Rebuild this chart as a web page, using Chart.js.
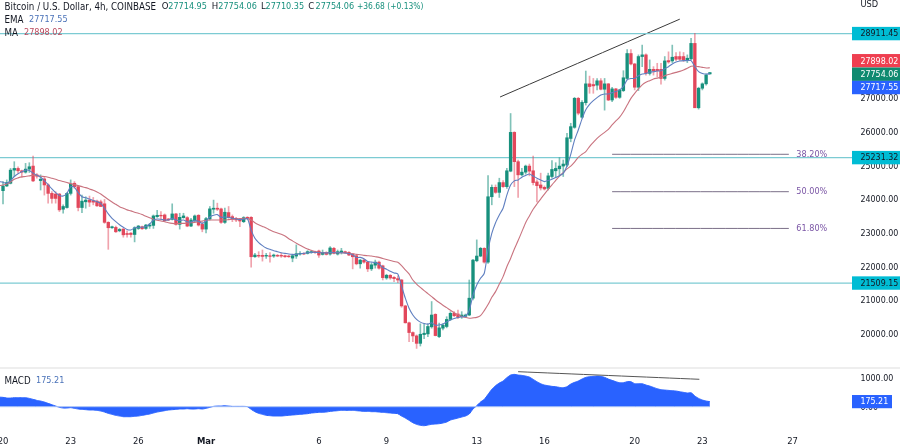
<!DOCTYPE html>
<html><head><meta charset="utf-8">
<script src="https://cdn.jsdelivr.net/npm/chart.js@4"></script>
<style>html,body{margin:0;padding:0;background:#fff;overflow:hidden}canvas{position:absolute;left:0;display:block}</style>
</head><body>
<canvas id="main" width="900" height="367" style="top:0"></canvas>
<canvas id="macd" width="900" height="80" style="top:367px"></canvas>
<script>
const opens=[
24250,24390,24470,24860,24910,24840,24800,24890,24980,24720,
24550,24600,24420,24170,24150,24150,23700,23750,24170,24470,
24370,23750,23920,23970,23950,23940,23920,23860,23310,23150,
23160,23060,23110,22980,22990,22950,23130,23180,23130,23200,
23220,23480,23520,23530,23410,23400,23560,23250,23450,23450,
23200,23360,23520,23250,23110,23410,23700,23730,23710,23310,
23600,23480,23430,23410,23330,23460,23460,22290,22330,22330,
22310,22320,22310,22330,22330,22320,22310,22250,22310,22370,
22390,22390,22410,22440,22460,22360,22420,22370,22540,22370,
22410,22440,22420,22370,22320,22080,22190,22130,21930,22040,
22130,22020,21660,21740,21680,21640,21600,20830,20330,20040,
19940,19720,19980,20000,20210,20580,19920,20170,20220,20430,
20610,20590,20510,20520,20560,21060,22170,22310,22540,22130,
24070,24350,24200,24490,24370,24830,25980,25110,24720,24800,
24980,24840,24510,24420,24350,24320,24670,24840,24900,24980,
25010,25800,26130,26990,26430,26860,27420,27400,27380,27510,
27260,27420,26940,27270,27020,27220,27580,28320,28010,27320,
28230,28280,27730,27850,27850,27850,27580,28110,28100,28230,
28230,28230,28110,28160,28620,26710,27290,27420,27714.95];
const highs=[
24520,24570,24910,25110,24960,24860,25060,25080,25280,24760,
24720,24650,24450,24220,24220,24170,23830,24190,24570,24520,
24390,24120,24070,24090,24050,23970,23970,23990,23330,23200,
23200,23130,23130,23060,23010,23180,23220,23200,23250,23280,
23530,23670,23630,23560,23430,23860,23580,23580,23580,23480,
23430,23530,23540,23330,23460,23780,23970,23880,23730,23730,
23780,23530,23460,23430,23480,23480,23480,22390,22440,22490,
22390,22410,22370,22360,22390,22340,22330,22340,22640,22440,
22410,22470,22470,22460,22490,22490,22440,22590,22570,22490,
22540,22460,22440,22390,22340,22210,22210,22150,22100,22190,
22160,22040,21770,21760,21700,21720,21620,20850,20350,20060,
19970,20300,20300,20300,20960,20600,20320,20300,20510,20660,
20660,20710,20660,20590,21600,22210,22790,22570,22560,24700,
24420,24420,24620,24550,24910,26540,26000,25160,24910,25010,
25040,25280,24570,24770,24390,24770,25140,25080,25230,25160,
25950,26250,27020,27020,26920,27800,27650,27580,27580,27580,
27580,27430,27320,27290,27260,27810,28440,28440,28030,28280,
28570,28310,28130,27930,28030,28030,28230,28370,28570,28350,
28370,28350,28280,28770,28920,27320,27450,27710,27754.06];
const lows=[
23860,24370,24450,24670,24770,24650,24770,24790,24520,24620,
24270,24120,23880,23880,23880,23630,23580,23730,24120,24320,
23650,23600,23730,23780,23830,23780,23780,23280,22510,23130,
23010,23030,22870,22870,22870,22730,23100,23100,23100,23130,
23130,23460,23380,23330,23360,23380,23230,23110,23430,23180,
23180,23330,23200,23030,23000,23380,23580,23660,23280,23280,
23430,23330,23330,23180,23300,23400,21980,22270,22270,22160,
22240,22130,22270,22290,22270,22270,22270,22140,22240,22340,
22350,22370,22390,22390,22270,22340,22340,22340,22370,22340,
22370,22390,22320,21930,22050,21950,22100,21850,21880,21950,
21920,21600,21620,21620,21550,21520,20790,20320,19770,19770,
19570,19640,19860,19920,20170,19940,19890,20120,20180,20400,
20510,20450,20460,20490,20540,21010,22140,22290,22100,22090,
23830,24170,24050,24350,24320,24810,24370,24050,24690,24740,
24690,24420,23920,24270,24270,24270,24620,24650,24690,24670,
24960,25700,26100,26500,26400,26790,27140,27140,27240,27240,
26640,26920,26890,26990,26990,27190,27550,27980,27240,27220,
27930,27680,27680,27680,27630,27410,27530,28030,28050,28110,
28110,28080,28050,28130,26710,26670,27240,27380,27710.35];
const closes=[
24390,24490,24860,24910,24840,24800,24890,24960,24540,24680,
24590,24420,24170,24020,24020,23680,23780,24170,24440,24370,
23750,23940,23970,23910,23910,23800,23780,23310,23150,23180,
23030,23100,22940,22950,22950,23150,23200,23120,23230,23230,
23500,23520,23500,23360,23380,23560,23250,23460,23500,23200,
23380,23500,23230,23110,23420,23710,23730,23700,23310,23610,
23450,23400,23380,23350,23450,23430,22290,22340,22310,22300,
22330,22300,22340,22310,22310,22290,22290,22320,22380,22390,
22370,22440,22440,22410,22340,22420,22360,22550,22390,22440,
22460,22410,22340,22290,22080,22190,22130,21930,22050,22130,
21950,21670,21740,21660,21640,21600,20830,20330,20040,19940,
19720,19990,20020,20220,20560,19950,20180,20260,20430,20610,
20540,20490,20560,20560,21060,22190,22310,22540,22130,24070,
24350,24200,24490,24370,24840,25980,25110,24720,24800,24980,
24830,24490,24400,24330,24300,24690,24880,24910,24980,25040,
25820,26150,26990,26550,26870,27420,27340,27360,27510,27260,
27420,26940,27270,27020,27240,27600,28320,28010,27320,28230,
28280,27730,27850,27810,27810,27580,28100,28070,28210,28150,
28150,28130,28180,28620,26710,27290,27420,27680,27754.06];
const emaValues=[
24500,24470,24550,24670,24750,24810,24860,24850,24770,24710,
24650,24550,24430,24300,24190,24110,24090,24170,24370,24350,
24190,24070,24040,24000,23960,23920,23875,23730,23560,23430,
23330,23240,23165,23100,23085,23140,23165,23165,23190,23260,
23380,23410,23400,23380,23380,23430,23380,23360,23380,23330,
23320,23360,23340,23280,23350,23470,23520,23540,23460,23470,
23460,23430,23410,23390,23400,23420,23080,22840,22710,22620,
22550,22510,22470,22440,22410,22390,22370,22360,22360,22380,
22390,22410,22420,22420,22410,22410,22400,22420,22410,22410,
22410,22400,22380,22350,22270,22270,22230,22150,22130,22115,
22075,21970,21920,21860,21810,21780,21420,21060,20760,20560,
20430,20350,20310,20290,20330,20255,20265,20295,20355,20415,
20455,20485,20505,20525,20700,21150,21450,21650,21800,22490,
22980,23300,23530,23730,24120,24420,24540,24570,24650,24700,
24745,24685,24620,24570,24520,24550,24590,24640,24695,24765,
24980,25330,25750,26050,26380,26650,26810,26920,27010,27090,
27120,27120,27160,27190,27240,27340,27540,27580,27580,27660,
27710,27730,27770,27780,27800,27810,27870,27930,28010,28070,
28100,28110,28110,28110,27930,27780,27730,27710,27717.55];
const maValues=[
24420,24450,24510,24590,24630,24660,24670,24690,24710,24700,
24680,24670,24650,24620,24590,24550,24520,24490,24460,24430,
24400,24370,24340,24300,24260,24210,24150,24070,23990,23915,
23845,23775,23730,23680,23650,23610,23580,23540,23490,23450,
23400,23370,23350,23330,23300,23280,23270,23280,23280,23290,
23300,23310,23330,23350,23370,23380,23380,23380,23380,23380,
23390,23400,23410,23420,23430,23420,23380,23300,23240,23190,
23140,23080,23030,22995,22955,22905,22825,22760,22690,22630,
22570,22520,22480,22440,22420,22410,22410,22410,22410,22410,
22410,22400,22390,22380,22360,22350,22330,22320,22310,22290,
22270,22240,22210,22180,22150,22125,22025,21900,21780,21600,
21480,21380,21285,21195,21105,21015,20930,20850,20780,20700,
20630,20570,20520,20490,20465,20475,20490,20540,20690,20870,
21085,21255,21480,21700,21995,22240,22520,22770,23035,23300,
23500,23700,23855,24000,24150,24290,24420,24557,24685,24785,
24895,24980,25100,25240,25330,25410,25560,25685,25805,25900,
25980,26070,26200,26320,26430,26590,26790,26990,27140,27270,
27390,27465,27515,27565,27590,27620,27660,27700,27730,27760,
27790,27830,27880,27940,27950,27930,27910,27890,27898.02];
const macdValues=[
322,299,299,310,310,310,310,287,253,218,
195,161,115,69,23,-23,-46,-46,-34,-57,
-80,-92,-103,-115,-115,-126,-149,-184,-230,-264,
-299,-322,-345,-345,-345,-333,-322,-299,-276,-253,
-218,-184,-161,-138,-115,-103,-92,-80,-80,-69,
-80,-80,-69,-80,-57,-23,11,23,23,34,
23,11,11,11,11,0,-92,-172,-230,-264,
-299,-310,-322,-322,-322,-310,-299,-287,-276,-264,
-253,-241,-218,-207,-195,-195,-184,-161,-149,-138,
-126,-126,-126,-126,-138,-149,-161,-161,-172,-172,
-184,-195,-207,-218,-230,-241,-322,-391,-471,-552,
-609,-644,-655,-632,-609,-598,-586,-563,-529,-460,
-425,-391,-356,-322,-253,-80,34,161,253,425,
598,724,816,885,1000,1092,1115,1092,1080,1057,
1023,942,862,793,747,724,701,689,666,655,
689,781,839,885,954,1011,1034,1046,1057,1046,
1011,954,908,862,827,827,862,862,793,793,
793,747,712,666,620,586,574,563,552,540,
517,494,471,482,368,287,230,195,175.21];
const priorBarEma=24520, priorBarMa=24400, priorBarMacd=330;
const timeTickBars=[0,18,36,54,84,102,126,144,168,186,210];
const timeTickLabels=["20","23","26","Mar","6","9","13","16","20","23","27"];
const priceTicks=[20000,21000,22000,23000,24000,25000,26000,27000];
const macdTicks=[0,1000];
const levelPrices=[28911.45,25231.32,21509.15];
const fibPrices=[25330,24220,23130];
const fibLabels=["38.20%","50.00%","61.80%"];
const fibSpanBars=[162,209];
const trendBars=[132.2,180];
const trendPrices=[27030,29340];
const macdTrendBars=[137,185.2];
const macdTrendValues=[1207,945];

const FONT='"DejaVu Sans Condensed","Noto Sans",sans-serif';
const INK='#131722', UP='#17907d', DOWN='#e2475b', CYAN='#00bcd4', LEVEL='#7ccbd3';
const XMIN=-0.8, XMAX=225.8;
const bars=opens.map((_,i)=>i);
const candleColors=bars.map(i=>closes[i]>=opens[i]?UP:DOWN);
const wickColors=bars.map(i=>closes[i]>=opens[i]?'rgba(23,144,125,.55)':'rgba(226,71,91,.5)');
const lineDs=(data,color,width,order)=>({type:'line',data,borderColor:color,borderWidth:width,pointRadius:0,tension:0.25,fill:false,order,parsing:false,normalized:true});
const xy=(xs,ys)=>xs.map((x,i)=>({x,y:ys[i]}));
const withPrior=(vals,prior)=>[{x:-1,y:prior},...xy(bars,vals)];

function fixedAxes(scale,vals){scale.ticks=vals.map(v=>({value:v}));}

function txt(ctx,s,x,y,color,size){ctx.fillStyle=color;ctx.font=(size||8.8)+'px '+FONT;ctx.textBaseline='middle';ctx.textAlign='left';ctx.fillText(s,x,y);}
function priceBox(ctx,yc,h,bg,fg,label){const x=852;ctx.fillStyle=bg;ctx.fillRect(x,yc-h/2,48,h);txt(ctx,label,860.5,yc+0.5,fg);}

const mainOverlay={id:'mainOverlay',afterDraw(c){
  const ctx=c.ctx,y=c.scales.y,x=c.scales.x;ctx.save();
  txt(ctx,'USD',860.5,5,INK,9.2);
  txt(ctx,'Bitcoin / U.S. Dollar, 4h, COINBASE',4.5,7,INK,9.7);
  txt(ctx,'O',161.7,7,INK,9.5);txt(ctx,'27714.95',168.3,7,UP,9);
  txt(ctx,'H',211.7,7,INK,9.5);txt(ctx,'27754.06',218.3,7,UP,9);
  txt(ctx,'L',261,7,INK,9.5);txt(ctx,'27710.35',265.5,7,UP,9);
  txt(ctx,'C',308.3,7,INK,9.5);txt(ctx,'27754.06',315.5,7,UP,9);
  txt(ctx,'+36.68 (+0.13%)',357,7,UP,8.4);
  txt(ctx,'EMA',4.5,20,INK,9.7);txt(ctx,'27717.55',29,20,'#4a72b8',9);
  txt(ctx,'MA',4.5,33,INK,9.7);txt(ctx,'27898.02',24,33,'#b8485c',9);
  fibLabels.forEach((s,i)=>txt(ctx,s,x.getPixelForValue(211),y.getPixelForValue(fibPrices[i]),'#7a55a5',9));
  levelPrices.forEach(v=>priceBox(ctx,y.getPixelForValue(v),13.4,CYAN,INK,v.toFixed(2)));
  priceBox(ctx,y.getPixelForValue(27898.02)-7,13.4,'#ef3f50','#fff','27898.02');
  priceBox(ctx,y.getPixelForValue(27754.06)+1.6,13.4,'#0f8a70','#fff','27754.06');
  priceBox(ctx,y.getPixelForValue(27717.55)+13.7,13.4,'#2962ff','#fff','27717.55');
  ctx.restore();
}};
const macdOverlay={id:'macdOverlay',afterDraw(c){
  const ctx=c.ctx,y=c.scales.y;ctx.save();
  ctx.fillStyle='#eeeeee';ctx.fillRect(0,0,900,2);
  txt(ctx,'MACD',4.5,14,INK,9.7);txt(ctx,'175.21',36,14,'#4a72b8',9);
  const yc=y.getPixelForValue(175.21);
  ctx.fillStyle='#2962ff';ctx.fillRect(852,yc-6.6,40,13.2);txt(ctx,'175.21',860.5,yc+0.5,'#fff');
  ctx.restore();
}};

const yFit=s=>{s.width=48;s.paddingTop=0;s.paddingBottom=0;};
const xFit=h=>s=>{s.height=h;s.paddingLeft=0;s.paddingRight=0;};
new Chart(document.getElementById('main'),{
  data:{datasets:[
    lineDs(xy([XMIN,XMAX],[levelPrices[0],levelPrices[0]]),LEVEL,1.2,5),
    lineDs(xy([XMIN,XMAX],[levelPrices[1],levelPrices[1]]),LEVEL,1.2,5),
    lineDs(xy([XMIN,XMAX],[levelPrices[2],levelPrices[2]]),LEVEL,1.2,5),
    lineDs(xy(fibSpanBars,[fibPrices[0],fibPrices[0]]),'#7b6f88',1,5),
    lineDs(xy(fibSpanBars,[fibPrices[1],fibPrices[1]]),'#7b6f88',1,5),
    lineDs(xy(fibSpanBars,[fibPrices[2],fibPrices[2]]),'#7b6f88',1,5),
    lineDs(xy(trendBars,trendPrices),'#3a3a3a',1,5),
    lineDs(withPrior(maValues,priorBarMa),'#c9737f',1.1,1),
    lineDs(withPrior(emaValues,priorBarEma),'#5f7fc0',1.1,0),
    {type:'bar',order:2,grouped:false,barThickness:2.7,backgroundColor:candleColors,
     data:bars.map(i=>({x:i,y:[opens[i],closes[i]]}))},
    {type:'bar',order:3,grouped:false,barThickness:1,backgroundColor:wickColors,
     data:bars.map(i=>({x:i,y:[lows[i],highs[i]]}))}
  ]},
  options:{responsive:false,animation:false,events:[],layout:{padding:0},
    plugins:{legend:{display:false},tooltip:{enabled:false}},
    scales:{
      x:{type:'linear',min:XMIN,max:XMAX,offset:false,display:false,afterFit:xFit(0)},
      y:{type:'linear',position:'right',min:19018,max:29908,afterFit:yFit,
        afterBuildTicks:s=>fixedAxes(s,priceTicks),
        grid:{display:false,drawTicks:false},border:{display:false},
        ticks:{padding:8.5,labelOffset:1,color:INK,font:{family:FONT,size:8.8},callback:v=>v.toFixed(2)}}
    }},
  plugins:[mainOverlay]
});
new Chart(document.getElementById('macd'),{
  data:{datasets:[
    lineDs(xy(macdTrendBars,macdTrendValues),'#555555',1,0),
    lineDs(xy([XMIN,188],[0,0]),'#a9c3f7',1,1),
    {type:'line',data:withPrior(macdValues,priorBarMacd),borderColor:'#2962ff',borderWidth:1,pointRadius:0,tension:0.2,fill:'origin',backgroundColor:'#2962ff',order:2,parsing:false}
  ]},
  options:{responsive:false,animation:false,events:[],layout:{padding:0},
    plugins:{legend:{display:false},tooltip:{enabled:false}},
    scales:{
      x:{type:'linear',min:XMIN,max:XMAX,offset:false,afterFit:xFit(16),
        afterBuildTicks:s=>fixedAxes(s,timeTickBars),
        grid:{display:false,drawTicks:false},border:{display:false},
        ticks:{autoSkip:false,maxRotation:0,padding:5,color:INK,
          font:ctx=>({family:FONT,size:9.4,weight:timeTickLabels[ctx.index]==='Mar'?'bold':'normal'}),
          callback:(v)=>timeTickLabels[timeTickBars.indexOf(v)]}},
      y:{type:'linear',position:'right',min:-838,max:1369,afterFit:yFit,
        afterBuildTicks:s=>fixedAxes(s,macdTicks),
        grid:{display:false,drawTicks:false},border:{display:false},
        ticks:{padding:8.5,labelOffset:1,color:INK,font:{family:FONT,size:8.8},callback:v=>v.toFixed(2)}}
    }},
  plugins:[macdOverlay]
});
</script>
</body></html>
